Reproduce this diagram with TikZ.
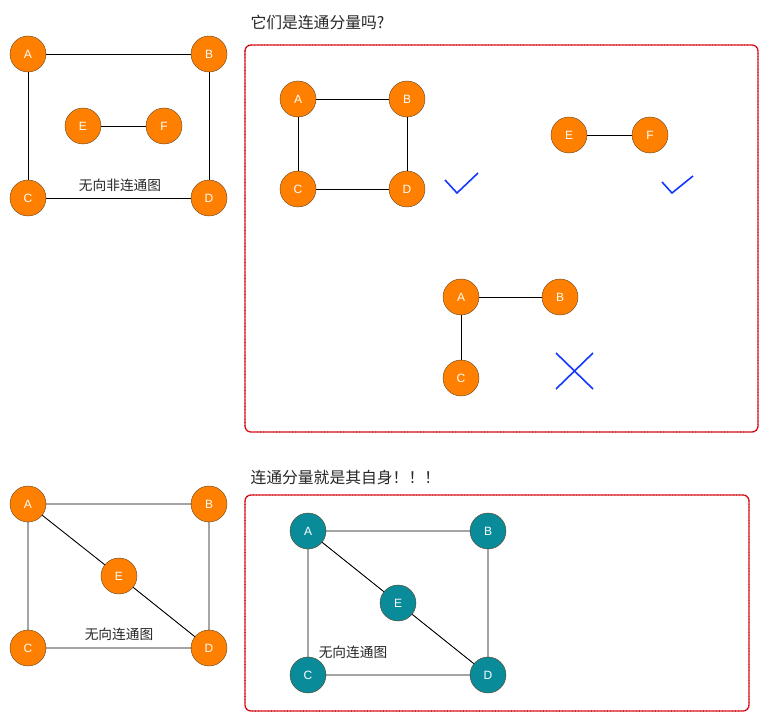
\documentclass[tikz,border=0pt]{standalone}
\usepackage{fontspec}
\setmainfont{Liberation Sans}
\newfontfamily\cjk{Noto Sans CJK SC}
\usepackage{tikz}
\usetikzlibrary{positioning, calc}
\definecolor{vorange}{RGB}{255,128,0}
\definecolor{vteal}{RGB}{10,139,154}
\definecolor{tickblue}{RGB}{20,55,255}
\definecolor{boxred}{RGB}{240,20,30}

\begin{document}
\begin{tikzpicture}[x=1pt, y=-1pt,
    vertex/.style={circle, minimum size=36pt, inner sep=0pt, draw=brown!50!black,
                   fill=vorange, text=white, font=\fontsize{12}{12}\selectfont},
    tealvertex/.style={vertex, fill=vteal},
    edge/.style={draw=black, line width=0.9pt},
    caption/.style={font=\cjk\fontsize{13.7}{14}\selectfont, text=black!85},
    title/.style={font=\cjk\fontsize{15.8}{16}\selectfont, text=black!85, anchor=west},
    tickmark/.style={draw=tickblue, line width=1.6pt}]
  \useasboundingbox (0,0) rectangle (769,722);

  % undirected, not connected
  \node[vertex] (a) at (28,54) {A};
  \node[vertex] (b) at (209,54) {B};
  \node[vertex] (c) at (28,198) {C};
  \node[vertex] (d) at (209,198) {D};
  \node[vertex] (e) at (83,126) {E};
  \node[vertex] (f) at (164,126) {F};
  \draw[edge] (a) -- (b) (a) -- (c) (b) -- (d) (c) -- (d) (e) -- (f);
  \node[caption] (lbl1) at (120,185) {无向非连通图};

  % components
  \node[title] (q1) at (247,22) {它们是连通分量吗?};
  \draw[boxred, line width=1.3pt, rounded corners=6pt] (245,45) rectangle (758,432);
  \draw[black, line width=0.6pt, dash pattern=on 0.6pt off 2.6pt, rounded corners=6pt] (245,45) rectangle (758,432);

  \node[vertex] (ka) at (298,99) {A};
  \node[vertex] (kb) at (407,99) {B};
  \node[vertex] (kc) at (298,189) {C};
  \node[vertex] (kd) at (407,189) {D};
  \draw[edge] (ka) -- (kb) (ka) -- (kc) (kb) -- (kd) (kc) -- (kd);
  \draw[tickmark] (445,180) -- (457,193) -- (478,173);

  \node[vertex] (ke) at (569,135) {E};
  \node[vertex] (kf) at (650,135) {F};
  \draw[edge] (ke) -- (kf);
  \draw[tickmark] (662,182) -- (672,193) -- (693,176);

  \node[vertex] (ma) at (461,297) {A};
  \node[vertex] (mb) at (560,297) {B};
  \node[vertex] (mc) at (461,378) {C};
  \draw[edge] (ma) -- (mb) (ma) -- (mc);
  \draw[tickmark] (556,353) -- (593,389) (556,389) -- (593,353);

  % undirected, connected
  \node[vertex] (sa) at (28,504) {A};
  \node[vertex] (sb) at (209,504) {B};
  \node[vertex] (sc) at (28,648) {C};
  \node[vertex] (sd) at (209,648) {D};
  \node[vertex] (se) at (119,576) {E};
  \draw[edge] (sa) -- (sb) (sa) -- (sc) (sb) -- (sd) (sc) -- (sd) (sa) -- (se) (se) -- (sd);
  \node[caption] (lbl2) at (119,634) {无向连通图};

  \node[title] (q2) at (247,478) {连通分量就是其自身！！！};
  \draw[boxred, line width=1.3pt, rounded corners=6pt] (245,495) rectangle (749,711);
  \draw[black, line width=0.6pt, dash pattern=on 0.6pt off 2.6pt, rounded corners=6pt] (245,495) rectangle (749,711);

  \node[tealvertex] (ta) at (308,531) {A};
  \node[tealvertex] (tb) at (488,531) {B};
  \node[tealvertex] (tc) at (308,675) {C};
  \node[tealvertex] (td) at (488,675) {D};
  \node[tealvertex] (te) at (398,603) {E};
  \draw[edge] (ta) -- (tb) (ta) -- (tc) (tb) -- (td) (tc) -- (td) (ta) -- (te) (te) -- (td);
  \node[caption] (lbl3) at (353,652) {无向连通图};
\end{tikzpicture}
\end{document}
